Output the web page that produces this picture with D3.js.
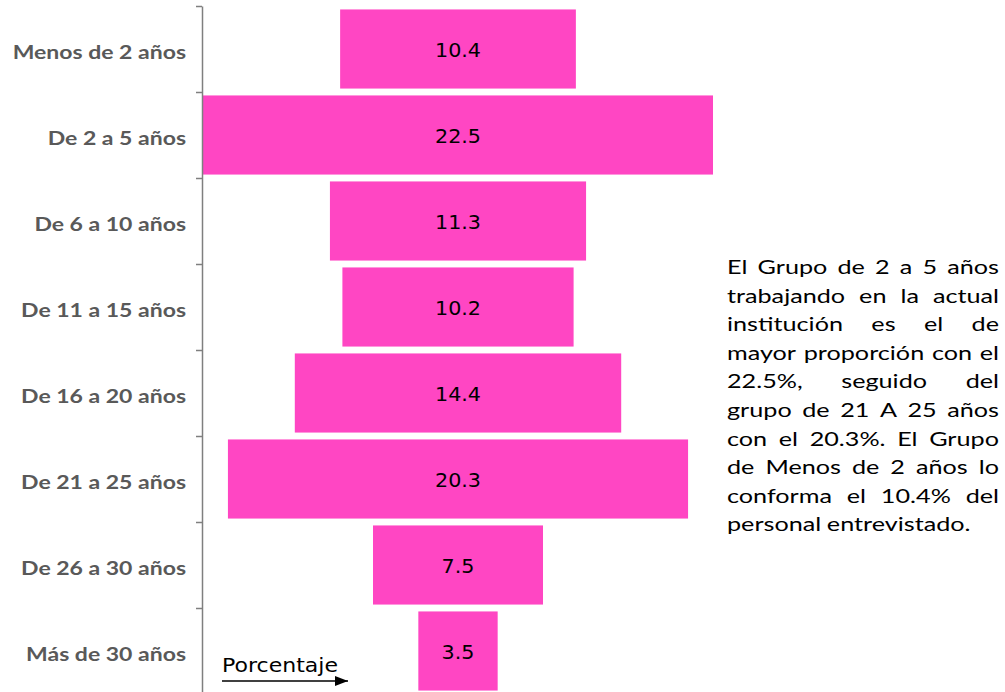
<!DOCTYPE html>
<html><head><meta charset="utf-8">
<script src="https://cdn.jsdelivr.net/npm/d3@7"></script>
<style>body{margin:0;background:#fff;overflow:hidden}</style>
</head><body>
<svg id="c" width="1005" height="692"></svg>
<script>
const categories = ["Menos de 2 años","De 2 a 5 años","De 6 a 10 años","De 11 a 15 años","De 16 a 20 años","De 21 a 25 años","De 26 a 30 años","Más de 30 años"];
const values = [10.4, 22.5, 11.3, 10.2, 14.4, 20.3, 7.5, 3.5];
const axisTitle = "Porcentaje";
const noteLines = [
  "El Grupo de 2 a 5 años",
  "trabajando en la actual",
  "institución es el de",
  "mayor proporción con el",
  "22.5%, seguido del",
  "grupo de  21 A 25 años",
  "con el 20.3%.  El Grupo",
  "de Menos de 2 años lo",
  "conforma el 10.4% del",
  "personal entrevistado."
];

const svg = d3.select("#c");
const topY = 6, band = 86;
const y = d3.scaleBand().domain(categories).range([topY, topY + band*categories.length]).paddingInner(0.08).paddingOuter(0.04);
const half = d3.max(values)/2;
const x = d3.scaleLinear().domain([-half, half]).range([203, 713]);
const axisX = 202;

// bars
svg.selectAll("rect.bar").data(values).join("rect")
  .attr("class","bar")
  .attr("x", d => x(-d/2)).attr("width", d => x(d/2)-x(-d/2))
  .attr("y", (d,i) => y(categories[i])).attr("height", y.bandwidth())
  .attr("fill", "#FF46C3");

const valStretch = 1.09;
svg.selectAll("text.val").data(values).join("text")
  .attr("class","val")
  .attr("transform", (d,i) => `translate(${x(0)},${y(categories[i]) + y.bandwidth()/2 + 2}) scale(${valStretch},1)`)
  .attr("text-anchor","middle").attr("dominant-baseline","central")
  .attr("font-family","DejaVu Sans").attr("font-size", 19).attr("fill","#000")
  .text(d => d.toFixed(1));

// axis with boundary ticks
const yb = d3.scaleLinear().domain([0, categories.length]).range([topY, topY + band*categories.length]);
const ax = svg.append("g").attr("transform", `translate(${axisX},0)`)
  .call(d3.axisLeft(yb).tickValues(d3.range(0, categories.length+1)).tickSize(6).tickSizeOuter(0).tickFormat(""));
ax.select(".domain").attr("stroke","#7f7f7f").attr("stroke-width",1.5);
ax.selectAll(".tick line").attr("stroke","#7f7f7f").attr("stroke-width",1.5);

// category labels
const catStretch = 1.18;
svg.selectAll("text.cat").data(categories).join("text")
  .attr("class","cat")
  .attr("transform", d => `translate(186,${y(d) + y.bandwidth()/2 + 3}) scale(${catStretch},1)`)
  .attr("text-anchor","end").attr("dominant-baseline","central")
  .attr("font-family","Lato").attr("font-weight","bold").attr("font-size", 19.5).attr("fill","#595959")
  .text(d => d);

// axis title + arrow
svg.append("defs").append("marker").attr("id","arr").attr("viewBox","0 0 10 10")
  .attr("refX",10).attr("refY",5).attr("markerWidth",13).attr("markerHeight",10).attr("markerUnits","userSpaceOnUse")
  .attr("orient","auto").attr("preserveAspectRatio","none").append("path").attr("d","M0,0L10,5L0,10Z").attr("fill","#000");
svg.append("text").attr("transform","translate(222,672) scale(1.16,1)").attr("font-family","DejaVu Sans").attr("font-size",19).attr("fill","#000").text(axisTitle);
svg.append("line").attr("x1",222).attr("x2",348).attr("y1",681).attr("y2",681).attr("stroke","#000").attr("stroke-width",1.3).attr("marker-end","url(#arr)");

// justified note
const nx0 = 727, nx1 = 999, ny0 = 274, lh = 28.6, noteStretch = 1.26;
const g = svg.append("g").attr("transform", `translate(${nx0},0) scale(${noteStretch},1)`)
  .attr("font-family","Lato").attr("font-size",20).attr("fill","#000");
const avail = (nx1 - nx0) / noteStretch;
noteLines.forEach((line, li) => {
  const words = line.split(/\s+/).filter(w => w.length);
  const yy = ny0 + li*lh;
  const last = li === noteLines.length-1;
  const ts = words.map(w => g.append("text").attr("y", yy).text(w));
  const widths = ts.map(t => t.node().getComputedTextLength());
  const total = d3.sum(widths);
  const gap = last || words.length < 2 ? 4.5 : (avail - total)/(words.length-1);
  let cx = 0;
  ts.forEach((t,i) => { t.attr("x", cx); cx += widths[i] + gap; });
});
</script>
</body></html>
